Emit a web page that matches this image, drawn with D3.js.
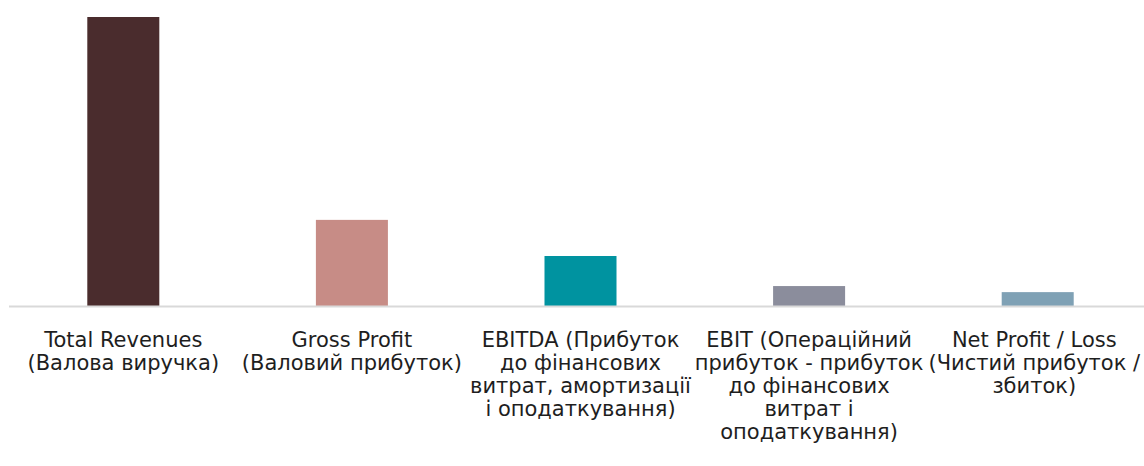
<!DOCTYPE html>
<html>
<head>
<meta charset="utf-8">
<script src="https://cdn.jsdelivr.net/npm/d3@7"></script>
<style>
  body { margin: 0; background: #fff; }
  svg { display: block; }
</style>
</head>
<body>
<div id="chart"></div>
<script>
// data (relative units)
const categories = ["Total Revenues", "Gross Profit", "EBITDA", "EBIT", "Net Profit / Loss"];
const values = [100, 29.8, 17.3, 6.9, 4.8];
const colors = ["#4a2c2d", "#c78c86", "#0093a0", "#8b8d9c", "#7fa1b5"];
const tickLines = [
  ["Total Revenues", "(Валова виручка)"],
  ["Gross Profit", "(Валовий прибуток)"],
  ["EBITDA (Прибуток", "до фінансових", "витрат, амортизації", "і оподаткування)"],
  ["EBIT (Операційний", "прибуток - прибуток", "до фінансових", "витрат і", "оподаткування)"],
  ["Net Profit / Loss", "(Чистий прибуток /", "збиток)"]
];

const W = 1144, H = 466;
const baseY = 306, topY = 17;

const svg = d3.select("#chart").append("svg")
  .attr("width", W).attr("height", H);

const x = d3.scaleBand()
  .domain(categories)
  .range([9, 1152])
  .paddingInner(0.685)
  .paddingOuter(0.3425);

const y = d3.scaleLinear()
  .domain([0, d3.max(values)])
  .range([baseY, topY]);

svg.selectAll("rect.bar")
  .data(categories)
  .enter()
  .append("rect")
  .attr("class", "bar")
  .attr("x", d => x(d))
  .attr("y", (d, i) => y(values[i]))
  .attr("width", x.bandwidth())
  .attr("height", (d, i) => y(0) - y(values[i]))
  .attr("fill", (d, i) => colors[i]);

// baseline
svg.append("line")
  .attr("x1", 9).attr("x2", W)
  .attr("y1", baseY + 0.5).attr("y2", baseY + 0.5)
  .attr("stroke", "#d9d9d9")
  .attr("stroke-width", 2);

// category labels, wrapped like the original
const lab = svg.selectAll("text.cat")
  .data(categories)
  .enter()
  .append("text")
  .attr("class", "cat")
  .attr("text-anchor", "middle")
  .attr("font-family", "'DejaVu Sans', sans-serif")
  .attr("font-size", 21)
  .attr("fill", "#1e1e1e");

lab.each(function (d, i) {
  const t = d3.select(this);
  tickLines[i].forEach((line, k) => {
    t.append("tspan")
      .attr("x", x(d) + x.bandwidth() / 2)
      .attr("y", 347 + k * 23)
      .text(line);
  });
  // keep the label inside the page, like the original does
  const bb = this.getBBox();
  const over = bb.x + bb.width - (W - 3);
  if (over > 0) t.selectAll("tspan").attr("x", x(d) + x.bandwidth() / 2 - over);
});
</script>
</body>
</html>
